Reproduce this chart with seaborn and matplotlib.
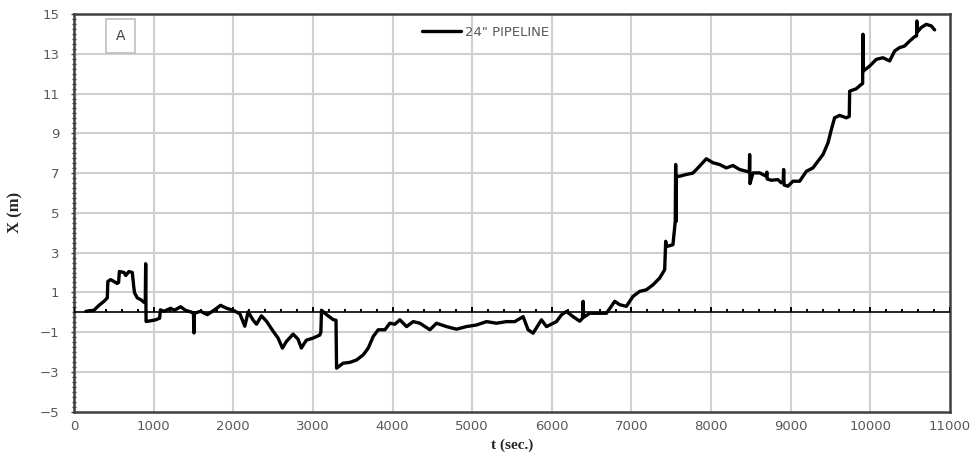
import numpy as np
import pandas as pd
import matplotlib
matplotlib.use("Agg")
import matplotlib.pyplot as plt
from matplotlib.ticker import MultipleLocator
import seaborn as sns

t_sec = [150, 250, 314, 376, 418, 425, 460, 502, 540, 560, 570, 628, 650, 690, 732, 750, 760, 795, 837, 879,
         895, 900, 905, 963, 1025, 1075, 1085, 1130, 1213, 1260, 1339, 1400, 1480, 1500, 1506, 1512, 1590, 1674,
         1757, 1841, 1916, 1999, 2083, 2145, 2187, 2250, 2292, 2354, 2417, 2500, 2563, 2617, 2667, 2751, 2813,
         2855, 2918, 3001, 3085, 3100, 3108, 3171, 3255, 3290, 3297, 3380, 3464, 3548, 3632, 3695, 3757, 3820,
         3904, 3966, 4029, 4092, 4176, 4259, 4343, 4469, 4552, 4677, 4803, 4928, 5054, 5180, 5305, 5431, 5535,
         5640, 5702, 5765, 5870, 5933, 6058, 6121, 6184, 6267, 6351, 6385, 6393, 6400, 6476, 6602, 6686, 6790,
         6853, 6936, 7020, 7103, 7187, 7270, 7354, 7417, 7430, 7438, 7521, 7550, 7555, 7560, 7565, 7605, 7688,
         7772, 7856, 7940, 8023, 8107, 8191, 8274, 8358, 8442, 8480, 8484, 8488, 8526, 8609, 8693, 8700, 8705,
         8756, 8839, 8881, 8905, 8911, 8917, 8965, 9028, 9112, 9196, 9279, 9342, 9405, 9468, 9510, 9551, 9614,
         9698, 9735, 9740, 9823, 9886, 9903, 9907, 9911, 9991, 10075, 10158, 10242, 10305, 10367, 10430, 10493,
         10556, 10580, 10584, 10590, 10639, 10702, 10765, 10807]

x_m = [0.05, 0.10, 0.35, 0.55, 0.72, 1.55, 1.64, 1.55, 1.45, 1.50, 2.05, 2.00, 1.85, 2.05, 2.00, 1.30, 0.98, 0.72,
       0.64, 0.50, 0.55, 2.44, -0.46, -0.43, -0.38, -0.30, 0.12, 0.05, 0.20, 0.10, 0.28, 0.10, 0.00, -0.05, -1.04,
       -0.05, 0.05, -0.12, 0.10, 0.35, 0.20, 0.10, -0.08, -0.70, 0.02, -0.40, -0.60, -0.18, -0.45, -0.95, -1.30,
       -1.80, -1.47, -1.10, -1.35, -1.80, -1.40, -1.30, -1.15, -1.00, 0.10, -0.12, -0.37, -0.40, -2.81, -2.56,
       -2.52, -2.40, -2.14, -1.80, -1.22, -0.88, -0.88, -0.55, -0.60, -0.38, -0.72, -0.47, -0.55, -0.88, -0.55,
       -0.72, -0.85, -0.72, -0.64, -0.47, -0.55, -0.47, -0.47, -0.22, -0.88, -1.05, -0.38, -0.72, -0.47, -0.13,
       0.04, -0.22, -0.45, -0.30, 0.55, -0.25, -0.05, -0.05, -0.05, 0.55, 0.38, 0.30, 0.80, 1.05, 1.13, 1.38,
       1.72, 2.14, 3.57, 3.30, 3.40, 4.57, 7.43, 4.57, 6.84, 6.84, 6.93, 7.00, 7.35, 7.72, 7.52, 7.43, 7.26,
       7.38, 7.18, 7.09, 7.05, 7.93, 6.47, 7.01, 7.01, 6.84, 7.05, 6.70, 6.64, 6.67, 6.51, 6.55, 7.18, 6.40,
       6.34, 6.59, 6.59, 7.09, 7.26, 7.60, 7.93, 8.52, 9.19, 9.78, 9.90, 9.78, 9.85, 11.12, 11.24, 11.46, 11.50,
       13.98, 12.13, 12.38, 12.72, 12.80, 12.64, 13.14, 13.31, 13.39, 13.64, 13.86, 13.90, 14.65, 14.10, 14.32,
       14.48, 14.40, 14.20]

x_ticks = list(range(0, 11001, 1000))
y_ticks = list(range(-5, 16, 2))
series_label = "24\" PIPELINE"
panel_label = "A"

sns.set_theme(style="white")
plt.rcParams['font.family'] = ['DejaVu Sans']

fig = plt.figure(figsize=(9.76, 4.57), dpi=100)
ax = fig.add_axes([74/976, 1 - 411.7/457, (950 - 74)/976, (411.7 - 14)/457])

df = pd.DataFrame({"t": t_sec, "X": x_m})
sns.lineplot(data=df, x="t", y="X", ax=ax, color="black", linewidth=2.4, sort=False,
             estimator=None, label=series_label, zorder=5)

ax.set_xlim(0, 11000)
ax.set_ylim(-5, 15)
ax.set_xticks(x_ticks)
ax.set_yticks(y_ticks)
ax.yaxis.set_minor_locator(MultipleLocator(0.25))

# light grid
grid_kw = dict(color="#d0d0d0", linewidth=1.5, zorder=1)
for xv in x_ticks[1:-1]:
    ax.axvline(xv, **grid_kw)
for yv in y_ticks[1:-1]:
    ax.axhline(yv, **grid_kw)

for s in ax.spines.values():
    s.set_color("#404040")
    s.set_linewidth(1.8)

ax.tick_params(axis="x", which="both", length=0, labelsize=9.5, labelcolor="#595959", pad=6)
ax.tick_params(axis="y", which="major", direction="inout", length=5, width=1, color="#404040",
               labelsize=9.5, labelcolor="#595959", pad=8, left=True)
ax.tick_params(axis="y", which="minor", direction="inout", length=3, width=1, color="#404040", left=True)

# horizontal axis crossing at X = 0, with its small tick marks
ax.axhline(0, color="black", linewidth=1.2, zorder=3)
minor_x = np.arange(0, 11001, 200)
ax.vlines(minor_x, 0, 0.18, color="black", linewidth=1.4, zorder=3)
ax.vlines(x_ticks, 0, 0.26, color="black", linewidth=1.4, zorder=3)

ax.set_xlabel("t (sec.)", fontsize=11, fontweight="bold", family="Liberation Serif", labelpad=4)
ax.set_ylabel("X (m)", fontsize=12, fontweight="bold", family="Liberation Serif", labelpad=12)

leg = ax.legend(loc="upper center", bbox_to_anchor=(0.47, 1.0), frameon=False, fontsize=9.5,
                handlelength=3.0, handletextpad=0.3)
for txt in leg.get_texts():
    txt.set_color("#595959")

ax.text(0.053, 0.945, panel_label, transform=ax.transAxes, ha="center", va="center", fontsize=10,
        color="#404040",
        bbox=dict(boxstyle="square,pad=0.7", facecolor="white", edgecolor="#bfbfbf", linewidth=1.2))

fig.savefig("out.png", dpi=100)
